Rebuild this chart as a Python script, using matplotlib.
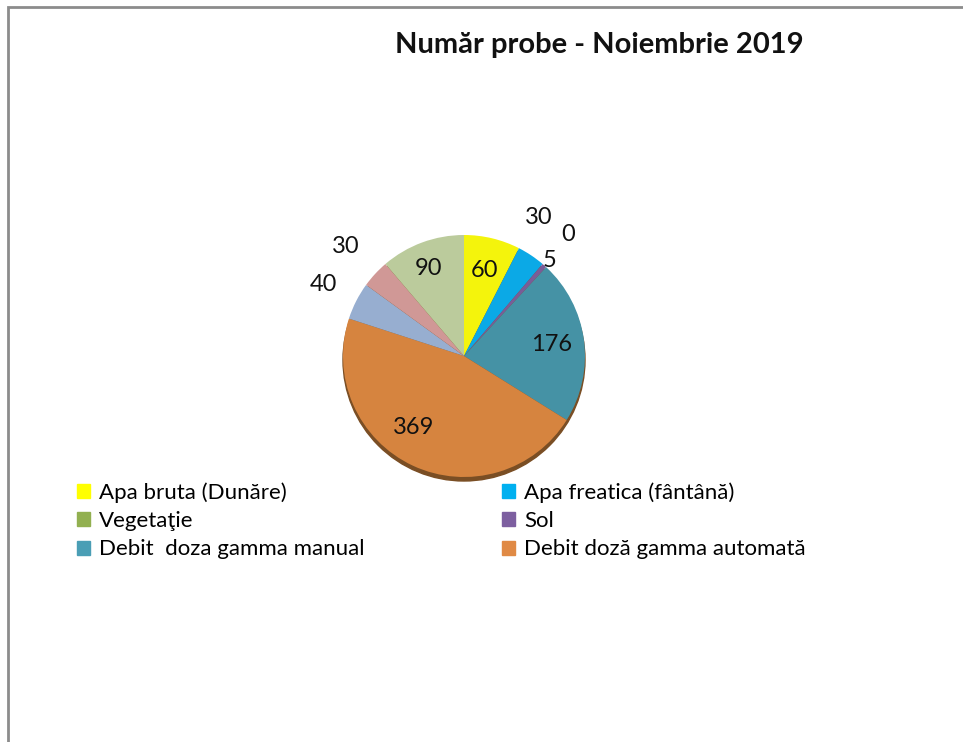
import matplotlib
matplotlib.use("Agg")
import matplotlib.pyplot as plt
from matplotlib.patches import Patch, Ellipse
import numpy as np

plt.rcParams['font.family'] = ['Lato', 'DejaVu Sans']

titlu = 'Număr probe - Noiembrie 2019'

# felii in ordinea din grafic (sens orar, de sus)
valori = [60, 30, 0, 5, 176, 369, 40, 30, 90]
culori_felii = ['#F4F40C', '#0BA9E6', '#7F9FC4', '#7A5C98', '#4592A5',
                '#D6843F', '#97AED0', '#D09896', '#BBCB9C']
# pozitia etichetelor: distanta (fractie din raza) si deplasare unghiulara
dist_etichete = [0.73, 1.30, 1.32, 1.06, 0.73, 0.72, 1.30, 1.33, 0.78]
rot_etichete = [0, 5.5, 0, 0, 0, -10, 0, 0, 2]

# legenda (doar 6 intrari)
legenda_stanga = ['Apa bruta (Dunăre)', 'Vegetaţie', 'Debit  doza gamma manual']
culori_stanga = ['#FFFF00', '#92B050', '#4A9EB5']
legenda_dreapta = ['Apa freatica (fântână)', 'Sol', 'Debit doză gamma automată']
culori_dreapta = ['#00B0F0', '#7D5FA0', '#E08A45']

W, H = 963, 742
fig = plt.figure(figsize=(W / 100, H / 100), dpi=100)
ax = fig.add_axes([0, 0, 1, 1])

cx, cy, r = 464, 742 - 356, 121

# umbra sub placinta
ax.add_patch(Ellipse((cx, cy - 4), 2 * r, 2 * r, color='#7A4E24', zorder=1))

wedges, _ = ax.pie(valori, colors=culori_felii, startangle=90, counterclock=False,
                   center=(cx, cy), radius=r, frame=True,
                   wedgeprops=dict(linewidth=0, zorder=2))
ax.set_xlim(0, W)
ax.set_ylim(0, H)
ax.set_aspect('equal')
ax.axis('off')

for w, v, d, rot in zip(wedges, valori, dist_etichete, rot_etichete):
    ang = np.deg2rad((w.theta1 + w.theta2) / 2 + rot)
    ax.text(cx + d * r * np.cos(ang), cy + d * r * np.sin(ang), str(v),
            ha='center', va='center', fontsize=17, color='#111111', zorder=3)

ax.text(599, 742 - 45, titlu, ha='center', va='center', fontsize=21,
        fontweight='bold', color='#111111')

# chenar
ax.plot([8, 8, W], [0, 742 - 7, 742 - 7], color='#8C8C8C', lw=2, zorder=0,
        solid_joinstyle='miter')

h1 = [Patch(color=c) for c in culori_stanga]
h2 = [Patch(color=c) for c in culori_dreapta]
kw = dict(frameon=False, fontsize=16, handlelength=0.6, handleheight=0.6,
          handletextpad=0.4, labelspacing=0.38, borderpad=0, borderaxespad=0)
leg1 = ax.legend(h1, legenda_stanga, loc='upper left',
                 bbox_to_anchor=(77 / W, 1 - 482 / H), **kw)
ax.add_artist(leg1)
ax.legend(h2, legenda_dreapta, loc='upper left',
          bbox_to_anchor=(502 / W, 1 - 482 / H), **kw)

fig.savefig('out.png', dpi=100, facecolor='white')
